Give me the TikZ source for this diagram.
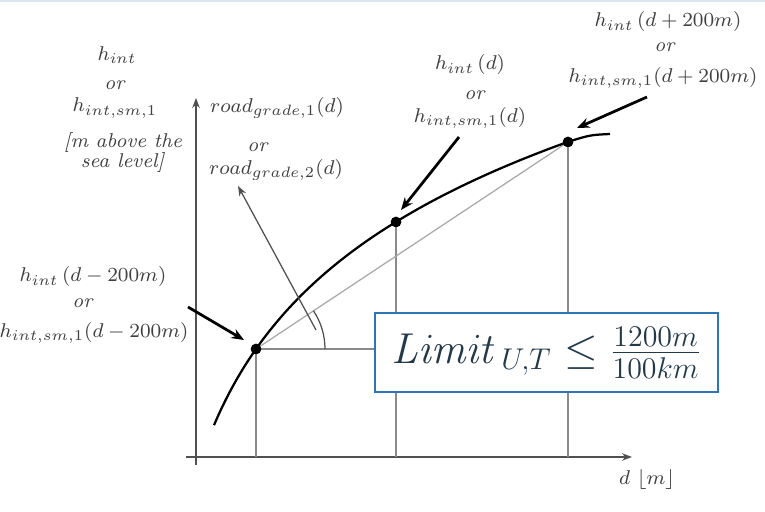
\documentclass[tikz,border=0pt]{standalone}
\usetikzlibrary{arrows.meta,calc}
\definecolor{labelgray}{HTML}{404040}
\definecolor{axisgray}{HTML}{505050}
\definecolor{dropgray}{HTML}{8A8A8A}
\definecolor{chordgray}{HTML}{A8A8A8}
\definecolor{boxblue}{HTML}{2E75B6}
\definecolor{boxtext}{HTML}{22394A}
\definecolor{topline}{HTML}{DCE6F0}
\begin{document}
\begin{tikzpicture}[x=0.4pt,y=0.4pt,
  lbl/.style={text=labelgray, font=\fontsize{8}{9.5}\selectfont, inner sep=0pt},
  dot/.style={circle, fill=black, inner sep=0pt, minimum size=4.2pt},
  axisline/.style={draw=axisgray, line width=0.6pt, -{Stealth[length=4pt,width=3pt]}},
  dropline/.style={draw=dropgray, line width=0.5pt},
  chordline/.style={draw=chordgray, line width=0.5pt},
  curveline/.style={draw=black, line width=0.9pt},
  pointer/.style={draw=black, line width=1.1pt, -{Stealth[length=5pt,width=4pt]}},
  thinpointer/.style={draw=axisgray, line width=0.5pt, -{Stealth[length=4pt,width=3pt]}},
  limitbox/.style={draw=boxblue, line width=0.8pt, fill=white, text=boxtext,
    minimum width=137.2pt, minimum height=31.6pt, inner sep=0pt}
]
\useasboundingbox (0,0) rectangle (765,512);
\draw[topline, line width=0.6pt] (0,511) -- (765,511);

% axes
\coordinate (yb) at (196,47);
\coordinate (yt) at (196,414);
\coordinate (xl) at (186,55);
\coordinate (xr) at (632,55);
\draw[axisline] (yb) -- (yt);
\draw[axisline] (xl) -- (xr);

% points on the curve
\node[dot] (A) at (256,163) {};
\node[dot] (B) at (396,290) {};
\node[dot] (C) at (568,370) {};
\coordinate (ce) at (610,378);
\coordinate (cc) at (590,377);

% feet on the d axis
\coordinate (Af) at (256,55);
\coordinate (Bf) at (396,55);
\coordinate (Cf) at (568,55);
\coordinate (Ah) at (400,163);

\draw[dropline] (A.center) -- (Af);
\draw[dropline] (B.center) -- (Bf);
\draw[dropline] (C.center) -- (Cf);
\draw[dropline] (A.center) -- (Ah);
\draw[chordline] (A.center) -- (C.center);

% angle arc
\draw[axisgray, line width=0.5pt] ($(A.center)+(69,0)$) arc[start angle=0, end angle=33.7, radius=27.6pt];

% curve
\draw[curveline] plot[domain=214:568, samples=90, smooth] (\x, {163+151*(ln(\x-150)-4.6634)})
  .. controls (cc) .. (ce);
\node[dot] at (A) {};
\node[dot] at (B) {};
\node[dot] at (C) {};

% limit box
\node[limitbox] (box) at (546.5,159.5)
  {\fontsize{17}{19}\selectfont$\mathit{Limit}_{\,U,T}\le\frac{1200m}{100km}$};

% labels: y axis
\node[lbl] (y1) at (117,457) {$h_{int}$};
\node[lbl] (y2) at (115,427) {\textit{or}};
\node[lbl] (y3) at (115,404) {$h_{int,sm,1}$};
\node[lbl] (y4) at (123,369) {\textit{[m above the}};
\node[lbl] (y5) at (123,349) {\textit{sea level]}};

% labels: road grade
\node[lbl] (r1) at (277,404) {$road_{grade,1}(d)$};
\node[lbl] (r2) at (258,365) {\textit{or}};
\node[lbl] (r3) at (276,342) {$road_{grade,2}(d)$};

% labels: middle
\node[lbl] (m1) at (470,447) {$h_{int}\,(d)$};
\node[lbl] (m2) at (475,417) {\textit{or}};
\node[lbl] (m3) at (470,394) {$h_{int,sm,1}(d)$};

% labels: right
\node[lbl] (p1) at (668,490) {$h_{int}\,(d+200m)$};
\node[lbl] (p2) at (665,465) {\textit{or}};
\node[lbl] (p3) at (663,434) {$h_{int,sm,1}(d+200m)$};

% labels: left
\node[lbl] (l1) at (93,235) {$h_{int}\,(d-200m)$};
\node[lbl] (l2) at (83,209) {\textit{or}};
\node[lbl] (l3) at (94,179) {$h_{int,sm,1}(d-200m)$};

% axis label
\node[lbl] (dl) at (647,32) {$d\ \lfloor m\rfloor$};

% pointers
\coordinate (lt) at (188,205);
\coordinate (lh) at (244,172);
\coordinate (mt) at (459,375);
\coordinate (mh) at (401,302);
\coordinate (rt) at (647,415);
\coordinate (rh) at (577,384);
\coordinate (gt) at (316,182);
\coordinate (gh) at (238,326);
\draw[pointer] (lt) -- (lh);
\draw[pointer] (mt) -- (mh);
\draw[pointer] (rt) -- (rh);
\draw[thinpointer] (gt) -- (gh);
\end{tikzpicture}
\end{document}
